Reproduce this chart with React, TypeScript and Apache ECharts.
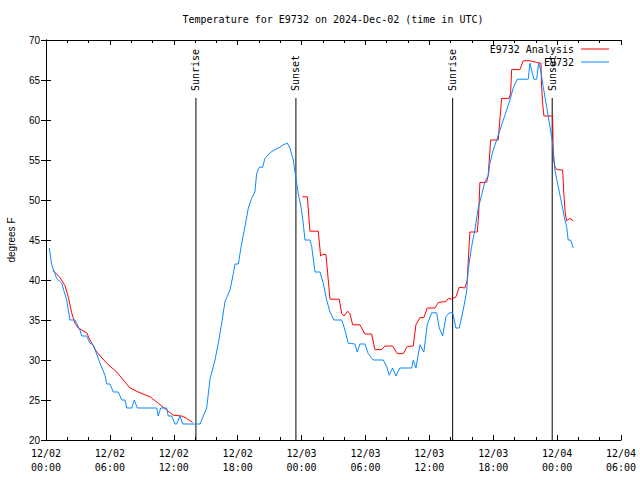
import React, { useEffect, useRef } from "react";
import * as echarts from "echarts";

// Hours since 2024-12-02 00:00 UTC
const analysisHours = [
  0.66, 1.31, 1.78, 2.09, 2.41, 2.72, 3.03, 3.82, 4.13, 4.76, 5.7, 6.64, 7.26, 7.89, 8.83, 9.77, 10.54, 11.33,
  11.95, 12.74, 13.21, 13.77, 18.9,
  24.07, 24.54, 24.79, 25.57, 25.79, 25.98, 26.29, 26.67, 27.54, 27.77, 27.98, 28.33, 28.54, 28.8, 29.48, 29.95,
  30.58, 30.89, 31.52, 31.83, 32.55, 32.99, 33.55, 33.92, 34.49, 34.74, 35.12, 35.49, 35.8, 36.53, 36.84, 37.56,
  37.78, 38.09, 38.5, 38.81, 39.34, 39.56, 39.74, 39.81, 40.5, 40.63, 40.75, 41.38, 41.53, 41.76, 42.47, 42.79,
  43.5, 43.63, 43.73, 44.51, 44.82, 45.45, 46.08, 46.48, 46.54, 46.64, 46.76, 47.58, 47.64, 47.79, 47.95, 48.52,
  48.64, 48.76, 48.89, 49.2, 49.51,
];
const analysisTemps: (number | null)[] = [
  41.2, 40.3, 39.3, 37.9, 35.9, 34.6, 34, 33.4, 32.5, 31, 29.6, 28.5, 27.5, 26.5, 25.9, 25.4, 24.6, 23.75,
  23.1, 23, 22.7, 22.2, null,
  50.4, 50.4, 46.1, 46.1, 43, 43.2, 43.2, 37.6, 37.6, 35.8, 35.5, 36.1, 35.8, 34.4, 34.4, 33.25,
  33.25, 31.3, 31.3, 31.75, 31.75, 30.8, 30.8, 31.7, 31.75, 34.4, 35.3, 35.3, 36.5, 36.5, 37.2, 37.3,
  37.7, 37.6, 37.9, 39.1, 39, 40, 44.4, 46, 46, 48.1, 52.2, 52.2, 53.1, 57.5, 57.5, 62.7,
  62.7, 63.3, 66.3, 66.3, 67.4, 67.4, 67.2, 67.1, 64.2, 62.1, 60.5, 60.5, 55.4, 54.2, 53.8, 53.75,
  50.6, 48.4, 47.4, 47.7, 47.4,
];

const obsHours = [
  0.31, 0.54, 1.0, 1.47, 1.94, 2.25, 2.72, 3.19, 3.35, 3.82, 4.13, 4.44, 5.07, 5.54, 5.7, 6.01, 6.32, 6.79,
  7.11, 7.42, 7.58, 8.05, 8.29, 8.57, 10.39, 10.54, 10.77, 11.33, 11.48, 11.8, 12.11, 12.27, 12.58, 12.84,
  14.46, 15.09, 15.4, 15.87, 16.18, 16.5, 16.81, 17.28, 17.59, 17.75, 18.06, 18.38, 18.69, 19.0, 19.31, 19.62,
  19.78, 20.03, 20.35, 20.56, 21.03, 21.5, 21.97, 22.28, 22.66, 22.91, 23.22, 23.47, 23.69, 23.94, 24.16, 24.32,
  24.79, 24.95, 25.26, 25.73, 26.04, 26.36, 26.67, 27.04, 27.77, 28.08, 28.38, 29.01, 29.23, 29.48, 29.95, 30.26,
  30.73, 31.67, 31.99, 32.23, 32.55, 32.86, 33.24, 34.34, 34.49, 34.74, 35.12, 35.49, 35.8, 36.22, 36.69, 36.93,
  37.25, 37.56, 37.87, 38.19, 38.5, 38.81, 39.18, 39.5, 39.65, 39.97, 40.28, 40.59, 40.91, 41.22, 41.53, 41.69,
  42.0, 42.32, 42.63, 43.1, 43.57, 43.88, 44.25, 45.29, 45.45, 45.6, 45.82, 46.08, 46.26, 46.45, 46.69, 47.01,
  47.32, 47.58, 47.79, 48.1, 48.42, 48.73, 48.89, 49.04, 49.27, 49.51,
];
const obsTemps = [
  44, 41.9, 40.2, 39.6, 37.5, 35, 35, 33.75, 33, 33, 32.1, 31.9, 29.6, 28.1, 27, 27, 26, 26,
  25, 25, 24, 24, 25, 24, 24, 23, 24, 24, 23, 23, 22, 22, 23, 22,
  22, 24, 27.6, 30, 32.1, 34.6, 37.3, 38.75, 40.8, 42, 42, 44.6, 46.7, 49, 50.2, 51,
  53.3, 54.1, 54.1, 55.2, 55.9, 56.3, 56.6, 56.9, 57.1, 56.5, 55, 52.7, 50.8, 49.2, 47.1, 45,
  45, 44.2, 41, 41, 39.6, 37.5, 36, 35, 35, 33.75, 32.1, 32, 31, 32, 32, 30.8,
  30, 30, 29.2, 28.1, 29, 28, 29, 29, 30, 29, 31.9, 31, 34.4, 35.9, 35.9, 34,
  33, 35.4, 35.9, 35.9, 34, 34, 36.25, 38.5, 41.25, 44.2, 46.25, 49, 50.6, 52.3, 53, 54.6,
  56.25, 57.5, 58.75, 60.6, 62.5, 64, 65.1, 65.1, 67.1, 66.25, 65.1, 65.1, 67.1, 66.25, 64.2, 61.7,
  59.2, 57.1, 53.75, 51.7, 49.6, 47.5, 46.7, 45, 45, 44,
];

const sunHours = [14.08, 23.47, 38.19, 47.54];
const sunLabels = ["Sunrise", "Sunset", "Sunrise", "Sunset"];

const seriesNames = ["E9732 Analysis", "E9732"];
const TITLE = "Temperature for E9732 on 2024-Dec-02 (time in UTC)";
const Y_NAME = "degrees F";
const DAY_LABELS = ["12/02", "12/03", "12/04"];

const MONO = '"DejaVu Sans Mono", monospace';
const SANS = '"Liberation Sans", Arial, sans-serif';
const SUN_LINE_TOP = 62.75;

export default function App() {
  const ref = useRef<HTMLDivElement>(null);
  useEffect(() => {
    if (!ref.current) return;
    const chart = echarts.init(ref.current, undefined, { renderer: "svg" });
    const pad = (n: number) => (n < 10 ? "0" + n : "" + n);
    const xFormatter = (v: number) => {
      const d = Math.floor(v / 24);
      const hh = Math.round(v - d * 24);
      return DAY_LABELS[d] + "\n" + pad(hh) + ":00";
    };
    const baseX = {
      type: "value",
      min: 0,
      max: 54,
      interval: 6,
      axisLine: { show: true, lineStyle: { color: "#000", width: 1 } },
      axisTick: { show: true, inside: true, length: 5, lineStyle: { color: "#000" } },
      minorTick: { show: true, splitNumber: 3, length: 3, lineStyle: { color: "#000" } },
      splitLine: { show: false },
      minorSplitLine: { show: false },
    };
    const baseY = {
      type: "value",
      min: 20,
      max: 70,
      interval: 5,
      axisLine: { show: true, lineStyle: { color: "#000", width: 1 } },
      axisTick: { show: true, inside: true, length: 5, lineStyle: { color: "#000" } },
      splitLine: { show: false },
    };
    chart.setOption({
      animation: false,
      backgroundColor: "#fff",
      title: {
        text: TITLE,
        left: 333,
        top: 14,
        padding: 0,
        textAlign: "center",
        textStyle: { fontFamily: MONO, fontSize: 10, fontWeight: "normal", color: "#000" },
      },
      legend: {
        data: seriesNames,
        orient: "vertical",
        align: "right",
        right: 31,
        top: 44,
        padding: 0,
        icon: "rect",
        itemWidth: 28,
        itemHeight: 1,
        itemGap: 3,
        textStyle: { fontFamily: MONO, fontSize: 10, color: "#000", lineHeight: 10, padding: [0, 2, 0, 0] },
      },
      grid: { left: 46, right: 19, top: 40, bottom: 40, outerBoundsMode: "none", containLabel: false },
      xAxis: [
        {
          ...baseX,
          position: "bottom",
          axisLabel: {
            formatter: xFormatter,
            fontFamily: MONO,
            fontSize: 10,
            color: "#000",
            lineHeight: 14,
            margin: 6,
          },
        },
        { ...baseX, position: "top", axisLabel: { show: false } },
      ],
      yAxis: [
        {
          ...baseY,
          position: "left",
          name: Y_NAME,
          nameLocation: "middle",
          nameRotate: 90,
          nameGap: 30,
          nameTextStyle: { fontFamily: SANS, fontSize: 10, color: "#000" },
          axisLabel: { fontFamily: SANS, fontSize: 10, color: "#000", margin: 6 },
        },
        { ...baseY, position: "right", axisLabel: { show: false } },
      ],
      series: [
        {
          name: seriesNames[0],
          type: "line",
          symbol: "none",
          connectNulls: false,
          color: "#ff0000",
          lineStyle: { width: 1, color: "#ff0000" },
          data: analysisHours.map((h, i) => [h, analysisTemps[i] === null ? "-" : analysisTemps[i]]),
          z: 3,
        },
        {
          name: seriesNames[1],
          type: "line",
          symbol: "none",
          color: "#0a8aff",
          lineStyle: { width: 1, color: "#0a8aff" },
          data: obsHours.map((h, i) => [h, obsTemps[i]]),
          z: 4,
        },
        {
          name: "sun",
          type: "custom",
          data: sunHours.map((h) => [h]),
          encode: { x: 0 },
          z: 2,
          renderItem: (params: any, api: any) => {
            const x = api.value(0);
            const top = api.coord([x, SUN_LINE_TOP]);
            const bottom = api.coord([x, 20]);
            return {
              type: "group",
              children: [
                {
                  type: "line",
                  shape: { x1: top[0], y1: top[1], x2: bottom[0], y2: bottom[1] },
                  style: { stroke: "#000", lineWidth: 1 },
                },
                {
                  type: "text",
                  x: top[0],
                  y: top[1] - 7,
                  rotation: Math.PI / 2,
                  style: {
                    text: sunLabels[params.dataIndex],
                    align: "left",
                    verticalAlign: "middle",
                    font: '10px "DejaVu Sans Mono", monospace',
                    fill: "#000",
                  },
                },
              ],
            };
          },
        },
      ],
    } as any);
    return () => chart.dispose();
  }, []);
  return <div ref={ref} style={{ position: "fixed", left: 0, top: 0, width: 640, height: 480 }} />;
}
